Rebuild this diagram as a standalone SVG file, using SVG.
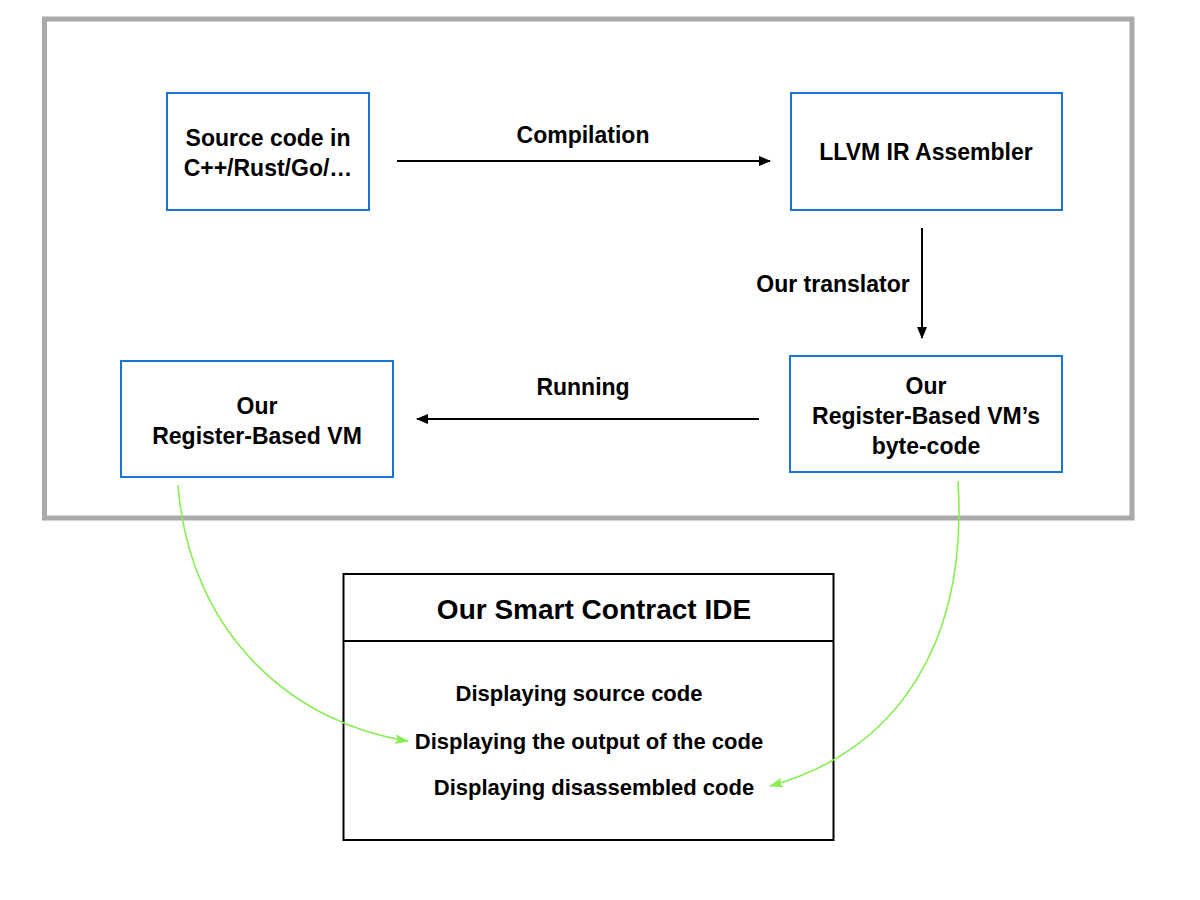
<svg xmlns="http://www.w3.org/2000/svg" width="1200" height="900" viewBox="0 0 1200 900">
<style>
text{font-family:"Liberation Sans",Arial,sans-serif;font-weight:bold;fill:#000;text-anchor:middle}
.t{font-size:23px}
.i{font-size:22px}
.h{font-size:28px}
.box{fill:#fff;stroke:#1a74d8;stroke-width:2}
.ln{stroke:#000;stroke-width:2;fill:none}
.gr{stroke:#88ee55;stroke-width:1.6;fill:none}
</style>
<defs>
<marker id="ab" markerWidth="12" markerHeight="10" refX="11" refY="5" orient="auto" markerUnits="userSpaceOnUse"><path d="M0,0 L12,5 L0,10 z" fill="#000"/></marker>
<marker id="ag" markerWidth="14" markerHeight="10" refX="13" refY="5" orient="auto" markerUnits="userSpaceOnUse"><path d="M0,0 L14,5 L0,10 L3,5 z" fill="#88ee55"/></marker>
</defs>
<rect width="1200" height="900" fill="#fff"/>
<rect id="frame" x="44.5" y="19" width="1087.5" height="499" fill="none" stroke="#aaaaaa" stroke-width="5"/>
<g id="source"><rect class="box" x="167" y="93" width="202" height="117"/><text class="t" x="268" y="146">Source code in</text><text class="t" x="268" y="176">C++/Rust/Go/…</text></g>
<g id="llvm"><rect class="box" x="791" y="93" width="271" height="117"/><text class="t" x="926" y="160">LLVM IR Assembler</text></g>
<g id="bytecode"><rect class="box" x="790" y="356" width="272" height="116"/><text class="t" x="926" y="394">Our</text><text class="t" x="926" y="424">Register-Based VM’s</text><text class="t" x="926" y="454">byte-code</text></g>
<g id="vm"><rect class="box" x="121" y="361" width="272" height="116"/><text class="t" x="257" y="414">Our</text><text class="t" x="257" y="444">Register-Based VM</text></g>
<g id="ide"><rect x="343.5" y="574" width="490" height="266" fill="#fff" stroke="#000" stroke-width="2"/><line x1="344" y1="641" x2="833" y2="641" stroke="#000" stroke-width="2"/><text class="h" x="594" y="619">Our Smart Contract IDE</text><text class="i" x="579" y="701">Displaying source code</text><text class="i" x="589" y="749">Displaying the output of the code</text><text class="i" x="594" y="795">Displaying disassembled code</text></g>
<g id="connectors">
<line class="ln" x1="397" y1="161" x2="770" y2="161" marker-end="url(#ab)"/>
<text class="t" x="583" y="143">Compilation</text>
<line class="ln" x1="922" y1="228" x2="922" y2="338" marker-end="url(#ab)"/>
<text class="t" x="833" y="292">Our translator</text>
<line class="ln" x1="759" y1="419" x2="417" y2="419" marker-end="url(#ab)"/>
<text class="t" x="583" y="395">Running</text>
<path class="gr" d="M178,485 C190,640 300,725 408,741" marker-end="url(#ag)"/>
<path class="gr" d="M958,481 C968,640 900,750 770,786" marker-end="url(#ag)"/>
</g>
</svg>
